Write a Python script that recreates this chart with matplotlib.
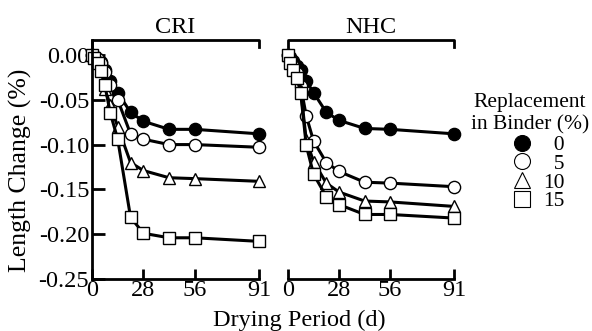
import matplotlib
matplotlib.use("Agg")
import matplotlib.pyplot as plt
from matplotlib.lines import Line2D

plt.rcParams['font.family'] = ['Liberation Serif', 'DejaVu Serif']
plt.rcParams['axes.unicode_minus'] = False

# drying days
days = [0, 1, 3, 5, 7, 10, 14, 21, 28, 42, 56, 91]

# length change (%) by cement replacement level
cri_0 = [0, -0.001, -0.004, -0.008, -0.017, -0.029, -0.042, -0.064, -0.074, -0.083, -0.083, -0.088]
cri_5 = [0, -0.001, -0.004, -0.009, -0.019, -0.033, -0.050, -0.088, -0.094, -0.100, -0.100, -0.103]
cri_10 = [0, -0.002, -0.006, -0.014, -0.038, -0.056, -0.080, -0.120, -0.129, -0.137, -0.138, -0.141]
cri_15 = [0, -0.003, -0.009, -0.018, -0.034, -0.065, -0.094, -0.181, -0.199, -0.204, -0.204, -0.208]

nhc_0 = [0, -0.002, -0.007, -0.012, -0.017, -0.029, -0.042, -0.064, -0.073, -0.082, -0.083, -0.088]
nhc_5 = [0, -0.004, -0.012, -0.020, -0.035, -0.068, -0.096, -0.120, -0.130, -0.142, -0.143, -0.147]
nhc_10 = [0, -0.005, -0.014, -0.024, -0.040, -0.095, -0.119, -0.143, -0.153, -0.163, -0.164, -0.169]
nhc_15 = [0, -0.009, -0.017, -0.026, -0.043, -0.101, -0.133, -0.158, -0.167, -0.178, -0.178, -0.182]

levels = ['0', '5', '10', '15']
markers = ['o', 'o', '^', 's']
faces = ['black', 'white', 'white', 'white']

xticks = [0, 28, 56, 91]
yticks = [-0.25, -0.20, -0.15, -0.10, -0.05, 0.00]
yticklabels = ['-0.25', '-0.20', '-0.15', '-0.10', '-0.05', '0.00']

fs = 17.5

fig = plt.figure(figsize=(5.92, 3.31), dpi=100)
W, H = 592, 331
ax1 = fig.add_axes([92 / W, 1 - 279 / H, 167 / W, 239 / H])
ax2 = fig.add_axes([288 / W, 1 - 279 / H, 166 / W, 239 / H])

panels = [(ax1, 'CRI', [cri_0, cri_5, cri_10, cri_15]),
          (ax2, 'NHC', [nhc_0, nhc_5, nhc_10, nhc_15])]

for ax, name, series in panels:
    for vals, m, fc in zip(series, markers, faces):
        ax.plot(days, vals, color='black', lw=2.2, marker=m, ms=8.8,
                mfc=fc, mec='black', mew=1.0, clip_on=False)
    ax.set_xlim(0, 91)
    ax.set_ylim(-0.25, 0.0167)
    ax.set_xticks(xticks)
    ax.set_xticklabels([str(t) for t in xticks], fontsize=fs)
    ax.tick_params(axis='x', direction='in', length=7, width=2, pad=1)
    ax.spines['top'].set_visible(False)
    ax.spines['right'].set_visible(False)
    ax.spines['bottom'].set_linewidth(2)
    ax.spines['left'].set_linewidth(2)
    # bracket over each panel
    ax.plot([0, 0, 1, 1], [0.97, 1, 1, 0.97], transform=ax.transAxes,
            color='black', lw=2, clip_on=False)
    ax.text(0.5, 1.052, name, transform=ax.transAxes, ha='center',
            va='center', fontsize=fs)

ax1.set_yticks(yticks)
ax1.set_yticklabels(yticklabels, fontsize=fs)
ax1.tick_params(axis='y', direction='in', length=9, width=2, pad=2)

ax2.spines['left'].set_visible(False)
ax2.set_yticks([])
ax2.tick_params(axis='x', length=7)
ax2.set_xticks(xticks)

fig.text(299 / W, 1 - 320 / H, 'Drying Period (d)', ha='center', va='center', fontsize=fs)
fig.text(20 / W, 1 - 170 / H, 'Length Change (%)', ha='center', va='center',
         rotation=90, fontsize=18.5)

# legend
fig.text(530 / W, 1 - 114 / H, 'Replacement\nin Binder (%)', ha='center',
         va='center', fontsize=15.5, linespacing=1.25)
handles = [Line2D([], [], ls='none', marker=m, ms=11.5, mfc=fc, mec='black', mew=0.8)
           for m, fc in zip(markers, faces)]
labels = ['\u2007' + lv if len(lv) == 1 else lv for lv in levels]
fig.legend(handles, labels, loc='upper left', bbox_to_anchor=(509 / W, 1 - 135 / H),
           frameon=False, fontsize=15.5, labelspacing=-0.06, handletextpad=0.4,
           handlelength=1.2, borderpad=0, borderaxespad=0)

fig.savefig('out.png', dpi=100)
